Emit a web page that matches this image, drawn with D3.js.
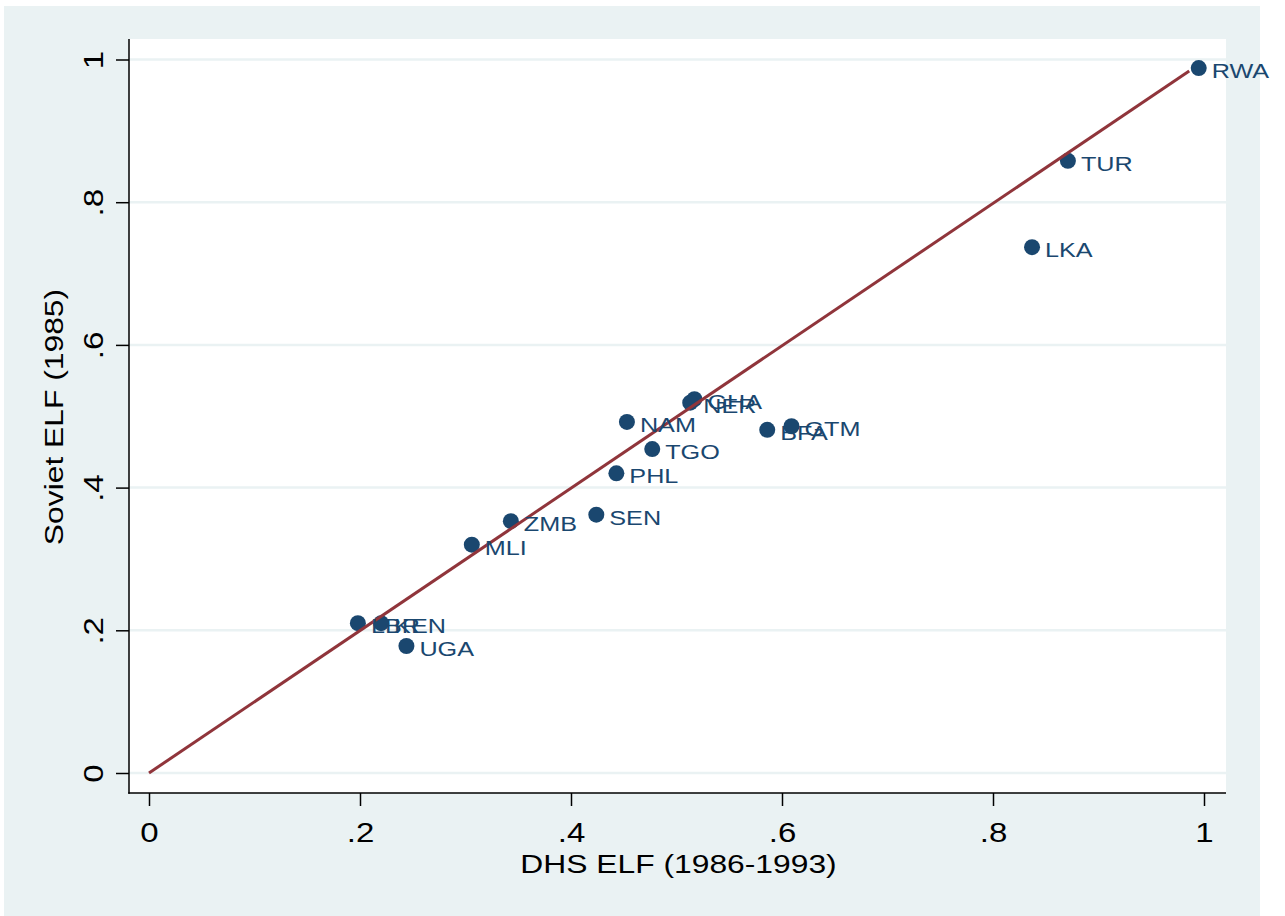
<!DOCTYPE html>
<html>
<head>
<meta charset="utf-8">
<script src="https://cdn.jsdelivr.net/npm/d3@7/dist/d3.min.js"></script>
<style>
  html, body { margin: 0; padding: 0; background: #ffffff; }
  svg { display: block; }
  text { font-family: "Liberation Sans", Arial, Helvetica, sans-serif; }
</style>
</head>
<body>
<svg id="chart" width="1285" height="916"></svg>
<script>
// ---- data ----
const countries = ["RWA","TUR","LKA","GHA","NER","NAM","TGO","BFA","GTM","PHL","SEN","ZMB","MLI","LBR","KEN","UGA"];
const dhsElf    = [0.995,0.871,0.837,0.517,0.513,0.453,0.477,0.586,0.609,0.443,0.424,0.343,0.306,0.198,0.220,0.244];
const sovietElf = [0.988,0.858,0.737,0.524,0.519,0.492,0.454,0.481,0.486,0.420,0.362,0.353,0.320,0.210,0.210,0.178];
const fitX = [0, 0.986];
const fitY = [0, 0.984];
const xTicks = [0, 0.2, 0.4, 0.6, 0.8, 1];
const yTicks = [0, 0.2, 0.4, 0.6, 0.8, 1];
const xTickLabels = ["0", ".2", ".4", ".6", ".8", "1"];
const yTickLabels = ["0", ".2", ".4", ".6", ".8", "1"];
const xTitle = "DHS ELF (1986-1993)";
const yTitle = "Soviet ELF (1985)";

// ---- layout ----
const svg = d3.select("#chart");
const plot = {left: 129, right: 1226, top: 39, bottom: 793};
const x = d3.scaleLinear().domain([0, 1]).range([149, 1204]);
const y = d3.scaleLinear().domain([0, 1]).range([773, 59.5]);
const bg = "#eaf2f3";
const navy = "#1a476f";
const maroon = "#90353b";
const stretch = 1.2;

svg.append("rect").attr("x", 4).attr("y", 6).attr("width", 1256).attr("height", 910).attr("fill", bg);
svg.append("rect").attr("x", plot.left).attr("y", plot.top)
  .attr("width", plot.right - plot.left).attr("height", plot.bottom - plot.top).attr("fill", "#ffffff");

// gridlines
svg.append("g").selectAll("line").data(yTicks).join("line")
  .attr("x1", plot.left).attr("x2", plot.right)
  .attr("y1", d => y(d)).attr("y2", d => y(d))
  .attr("stroke", bg).attr("stroke-width", 2.5);

// axes
const xAxis = d3.axisBottom(x).tickValues(xTicks).tickSize(13).tickFormat((d, i) => xTickLabels[i]);
const gx = svg.append("g").attr("transform", `translate(0,${plot.bottom})`).call(xAxis);
gx.select(".domain").remove();
gx.selectAll(".tick line").attr("stroke", "#000").attr("stroke-width", 1.5);
gx.selectAll(".tick text").remove();
gx.selectAll(".tick").append("text")
  .attr("transform", `translate(0,49) scale(${stretch},1)`)
  .attr("text-anchor", "middle").attr("fill", "#000").attr("font-size", 27.5)
  .text((d, i) => xTickLabels[i]);

const yAxis = d3.axisLeft(y).tickValues(yTicks).tickSize(13).tickFormat((d, i) => yTickLabels[i]);
const gy = svg.append("g").attr("transform", `translate(${plot.left},0)`).call(yAxis);
gy.select(".domain").remove();
gy.selectAll(".tick line").attr("stroke", "#000").attr("stroke-width", 1.5);
gy.selectAll(".tick text").remove();
gy.selectAll(".tick").append("text")
  .attr("transform", `translate(-26,0) rotate(-90) scale(${stretch},1)`)
  .attr("text-anchor", "middle").attr("fill", "#000").attr("font-size", 27.5)
  .text((d, i) => yTickLabels[i]);

svg.append("line").attr("x1", plot.left).attr("x2", plot.left).attr("y1", plot.top).attr("y2", plot.bottom + 0.75)
  .attr("stroke", "#000").attr("stroke-width", 1.5);
svg.append("line").attr("x1", plot.left - 0.75).attr("x2", plot.right).attr("y1", plot.bottom).attr("y2", plot.bottom)
  .attr("stroke", "#000").attr("stroke-width", 1.5);

// axis titles
svg.append("text")
  .attr("transform", `translate(${(plot.left + plot.right) / 2 + 1},873) scale(${stretch},1)`)
  .attr("text-anchor", "middle").attr("fill", "#000").attr("font-size", 26.5).text(xTitle);
svg.append("text")
  .attr("transform", `translate(63,${(plot.top + plot.bottom) / 2 + 1}) rotate(-90) scale(${stretch},1)`)
  .attr("text-anchor", "middle").attr("fill", "#000").attr("font-size", 26.5).text(yTitle);

// points
const pts = countries.map((c, i) => ({c, x: dhsElf[i], y: sovietElf[i]}));
svg.append("g").selectAll("circle").data(pts).join("circle")
  .attr("cx", d => x(d.x)).attr("cy", d => y(d.y)).attr("r", 8).attr("fill", navy);

// fitted line (drawn over the markers)
svg.append("path")
  .datum(fitX.map((v, i) => [v, fitY[i]]))
  .attr("d", d3.line().x(d => x(d[0])).y(d => y(d[1])))
  .attr("stroke", maroon).attr("stroke-width", 3).attr("fill", "none");

// labels
svg.append("g").selectAll("text").data(pts).join("text")
  .attr("transform", d => `translate(${x(d.x) + 13},${y(d.y) + 10}) scale(${stretch},1)`)
  .attr("fill", navy).attr("font-size", 21).text(d => d.c);
</script>
</body>
</html>
